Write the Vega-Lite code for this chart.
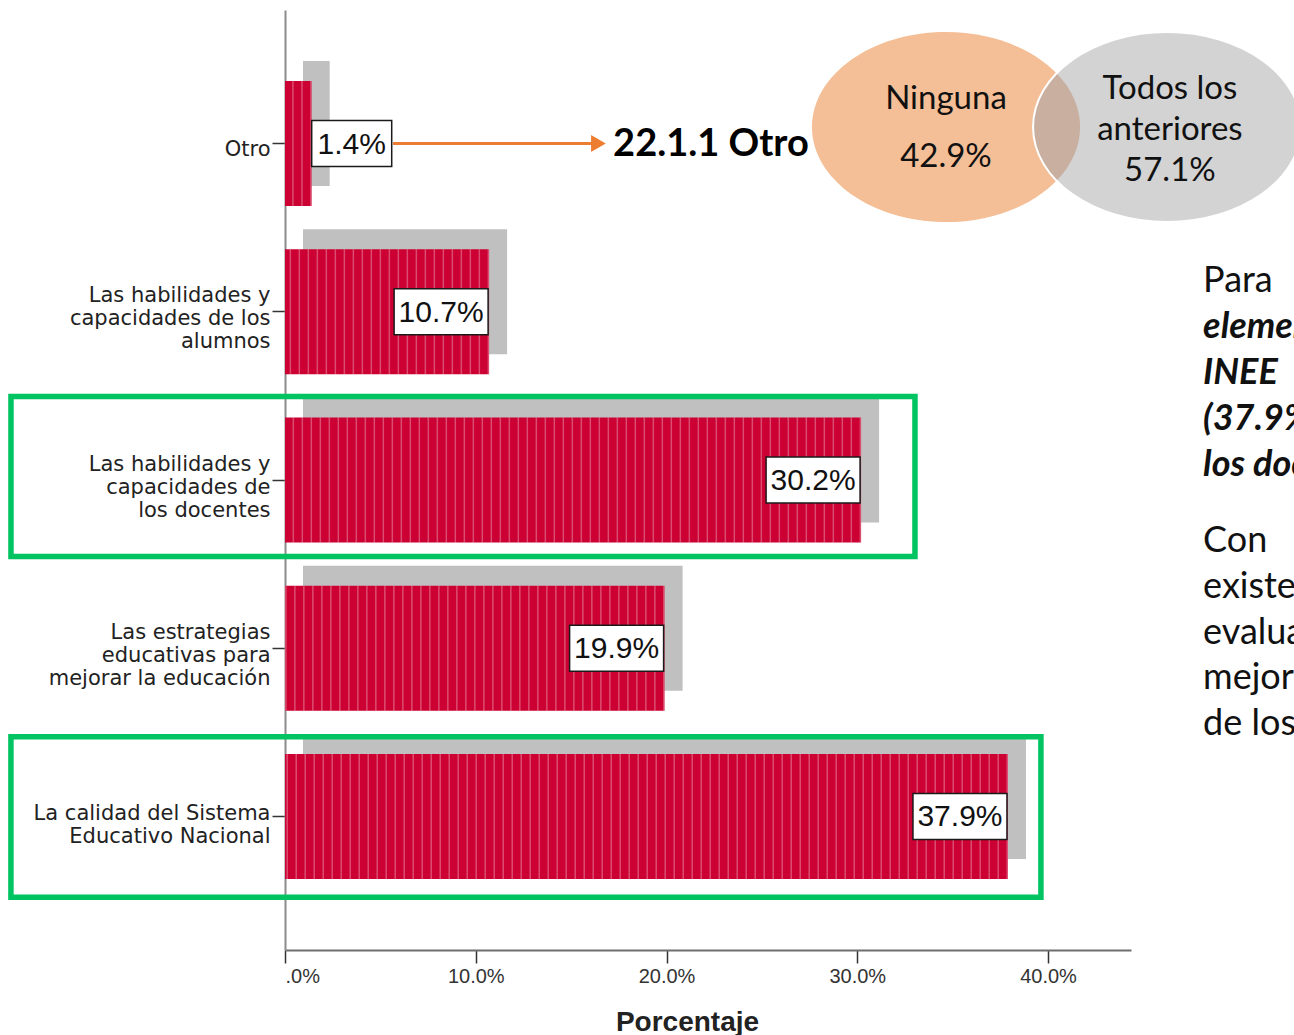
{
  "$schema": "https://vega.github.io/schema/vega-lite/v6.json",
  "autosize": {"type": "none"},
  "width": 846,
  "height": 940,
  "padding": {"left": 285, "top": 10, "right": 163, "bottom": 85},
  "background": "white",
  "config": {"view": {"stroke": null}, "axis": {"grid": false}},
  "data": {"values": [
    {"cat": "Otro", "pct": 0.014},
    {"cat": "Las habilidades y\ncapacidades de los\nalumnos", "pct": 0.107},
    {"cat": "Las habilidades y\ncapacidades de\nlos docentes", "pct": 0.302},
    {"cat": "Las estrategias\neducativas para\nmejorar la educación", "pct": 0.199},
    {"cat": "La calidad del Sistema\nEducativo Nacional", "pct": 0.379}
  ]},
  "layer": [
    {
      "mark": {"type": "bar", "color": "#C0C0C0", "xOffset": 18, "x2Offset": 22, "yOffset": -20},
      "encoding": {
        "x": {"field": "pct", "type": "quantitative",
              "scale": {"domain": [0, 0.4435], "nice": false, "zero": false},
              "axis": {"values": [0, 0.1, 0.2, 0.3, 0.4],
                       "labelExpr": "datum.value == 0 ? '.0%' : format(datum.value, '.1%')",
                       "domainColor": "#6e6e6e", "domainWidth": 2, "tickColor": "#333333", "tickWidth": 1.5, "tickSize": 13,
                       "labelFont": "Liberation Sans", "labelFontSize": 20, "labelColor": "#333333", "labelPadding": 3,
                       "title": "Porcentaje", "titleFont": "Liberation Sans", "titleFontSize": 28, "titleFontWeight": "bold",
                       "titleColor": "#222222", "titleX": 402, "titleY": 80, "titleAlign": "center", "titleBaseline": "alphabetic"}},
        "y": {"field": "cat", "type": "nominal",
              "scale": {"domain": ["Otro", "Las habilidades y\ncapacidades de los\nalumnos", "Las habilidades y\ncapacidades de\nlos docentes", "Las estrategias\neducativas para\nmejorar la educación", "La calidad del Sistema\nEducativo Nacional"], "paddingInner": 0.257, "paddingOuter": 0.422},
              "axis": {"title": null, "labelExpr": "split(datum.label, '\\n')", "labelLineHeight": 23,
                       "labelFont": "DejaVu Sans", "labelFontSize": 21, "labelColor": "#222222", "labelLimit": 400,
                       "labelPadding": 2,
                       "labelOffset": {"condition": [{"test": "datum.value == 'Otro'", "value": 6}, {"test": "indexof(datum.value, 'Sistema') >= 0", "value": -2}], "value": -15.5},
                       "domainColor": "#8c8c8c", "domainWidth": 2, "tickColor": "#333333", "tickWidth": 1.5, "tickSize": 13}}
      }
    },
    {
      "mark": {"type": "bar", "color": "#CC0033"},
      "encoding": {
        "x": {"field": "pct", "type": "quantitative"},
        "y": {"field": "cat", "type": "nominal"}
      }
    },
    {
      "mark": {"type": "rule", "color": "white", "strokeWidth": 125, "strokeDash": [1.5, 7.5], "opacity": 0.3},
      "encoding": {
        "x": {"field": "pct", "type": "quantitative"},
        "x2": {"value": 0},
        "y": {"field": "cat", "type": "nominal"}
      }
    },
    {
      "transform": [{"filter": "datum.cat != 'Otro'"}],
      "mark": {"type": "bar", "fill": "white", "stroke": "#1a1a1a", "strokeWidth": 1.5, "height": 46, "xOffset": -95, "x2Offset": -1},
      "encoding": {
        "x": {"field": "pct", "type": "quantitative"},
        "x2": {"field": "pct"},
        "y": {"field": "cat", "type": "nominal"}
      }
    },
    {
      "transform": [{"filter": "datum.cat == 'Otro'"}],
      "mark": {"type": "bar", "fill": "white", "stroke": "#1a1a1a", "strokeWidth": 1.5, "height": 46, "xOffset": 0, "x2Offset": 80},
      "encoding": {
        "x": {"field": "pct", "type": "quantitative"},
        "x2": {"field": "pct"},
        "y": {"field": "cat", "type": "nominal"}
      }
    },
    {
      "transform": [{"filter": "datum.cat != 'Otro'"}],
      "mark": {"type": "text", "font": "Liberation Sans", "fontSize": 30, "color": "#111111", "align": "center", "baseline": "middle", "xOffset": -48, "yOffset": 1},
      "encoding": {
        "x": {"field": "pct", "type": "quantitative"},
        "y": {"field": "cat", "type": "nominal"},
        "text": {"field": "pct", "type": "quantitative", "format": ".1%"}
      }
    },
    {
      "transform": [{"filter": "datum.cat == 'Otro'"}],
      "mark": {"type": "text", "font": "Liberation Sans", "fontSize": 30, "color": "#111111", "align": "center", "baseline": "middle", "xOffset": 40, "yOffset": 1},
      "encoding": {
        "x": {"field": "pct", "type": "quantitative"},
        "y": {"field": "cat", "type": "nominal"},
        "text": {"field": "pct", "type": "quantitative", "format": ".1%"}
      }
    },
    {
      "data": {"values": [{}]},
      "mark": {"type": "point", "shape": "M-1,-0.177L1,-0.177L1,0.177L-1,0.177Z", "size": 817216, "filled": false, "stroke": "#00C462", "strokeWidth": 5.5, "opacity": 1, "yOffset": -3.5},
      "encoding": {
        "x": {"datum": 0.0933, "type": "quantitative"},
        "y": {"datum": "Las habilidades y\ncapacidades de\nlos docentes", "type": "nominal"}
      }
    },
    {
      "data": {"values": [{}]},
      "mark": {"type": "point", "shape": "M-1,-0.1558L1,-0.1558L1,0.1558L-1,0.1558Z", "size": 1060900, "filled": false, "stroke": "#00C462", "strokeWidth": 5.5, "opacity": 1, "yOffset": 0.5},
      "encoding": {
        "x": {"datum": 0.1263, "type": "quantitative"},
        "y": {"datum": "La calidad del Sistema\nEducativo Nacional", "type": "nominal"}
      }
    },
    {
      "data": {"values": [{}]},
      "mark": {"type": "point", "shape": "M-1,0L1,0", "size": 39601, "filled": false, "stroke": "#ED7D31", "strokeWidth": 3, "opacity": 1},
      "encoding": {
        "x": {"datum": 0.1088, "type": "quantitative"},
        "y": {"datum": "Otro", "type": "nominal"}
      }
    },
    {
      "data": {"values": [{}]},
      "mark": {"type": "point", "shape": "triangle-right", "size": 289, "filled": true, "color": "#ED7D31", "opacity": 1},
      "encoding": {
        "x": {"datum": 0.1643, "type": "quantitative"},
        "y": {"datum": "Otro", "type": "nominal"}
      }
    },
    {
      "data": {"values": [{}]},
      "mark": {"type": "text", "text": "22.1.1 Otro", "font": "Lato", "fontSize": 38, "fontWeight": "bold", "color": "#000000", "align": "left", "baseline": "middle", "yOffset": 1.5},
      "encoding": {
        "x": {"datum": 0.172, "type": "quantitative"},
        "y": {"datum": "Otro", "type": "nominal"}
      }
    },
    {
      "data": {"values": [{}]},
      "mark": {"type": "point", "shape": "M-1,0A1,0.709,0,1,1,1,0A1,0.709,0,1,1,-1,0Z", "size": 71824, "filled": true, "color": "#F4BE96", "opacity": 1, "yOffset": -16.5},
      "encoding": {
        "x": {"datum": 0.3465, "type": "quantitative"},
        "y": {"datum": "Otro", "type": "nominal"}
      }
    },
    {
      "data": {"values": [{}]},
      "mark": {"type": "point", "shape": "M-1,0A1,0.709,0,1,1,1,0A1,0.709,0,1,1,-1,0Z", "size": 71824, "filled": true, "color": "#D3D3D3", "opacity": 1, "yOffset": -16.5},
      "encoding": {
        "x": {"datum": 0.4624, "type": "quantitative"},
        "y": {"datum": "Otro", "type": "nominal"}
      }
    },
    {
      "data": {"values": [{}]},
      "mark": {"type": "point", "shape": "M0,-0.4011A1,0.709,0,0,1,0,0.4011A1,0.709,0,0,1,0,-0.4011Z", "size": 71824, "filled": true, "color": "#C9AFA0", "opacity": 1, "yOffset": -16.5},
      "encoding": {
        "x": {"datum": 0.4045, "type": "quantitative"},
        "y": {"datum": "Otro", "type": "nominal"}
      }
    },
    {
      "data": {"values": [{}]},
      "mark": {"type": "point", "shape": "M-1,0A1,0.709,0,1,1,1,0A1,0.709,0,1,1,-1,0Z", "size": 71824, "filled": false, "stroke": "white", "strokeWidth": 2, "opacity": 1, "yOffset": -16.5},
      "encoding": {
        "x": {"datum": 0.4624, "type": "quantitative"},
        "y": {"datum": "Otro", "type": "nominal"}
      }
    },
    {
      "data": {"values": [{}]},
      "mark": {"type": "text", "text": "Ninguna", "font": "Lato", "fontSize": 33, "color": "#111111", "align": "center", "baseline": "middle", "yOffset": -44.5},
      "encoding": {
        "x": {"datum": 0.3465, "type": "quantitative"},
        "y": {"datum": "Otro", "type": "nominal"}
      }
    },
    {
      "data": {"values": [{}]},
      "mark": {"type": "text", "text": "42.9%", "font": "Lato", "fontSize": 33, "color": "#111111", "align": "center", "baseline": "middle", "yOffset": 13.5},
      "encoding": {
        "x": {"datum": 0.3465, "type": "quantitative"},
        "y": {"datum": "Otro", "type": "nominal"}
      }
    },
    {
      "data": {"values": [{}]},
      "mark": {"type": "text", "text": ["Todos los", "anteriores", "57.1%"], "lineHeight": 41, "font": "Lato", "fontSize": 33, "color": "#111111", "align": "center", "baseline": "middle", "yOffset": -55},
      "encoding": {
        "x": {"datum": 0.4639, "type": "quantitative"},
        "y": {"datum": "Otro", "type": "nominal"}
      }
    },
    {
      "data": {"values": [{}]},
      "mark": {"type": "text", "text": "Para", "font": "Lato", "fontSize": 36, "color": "#111111", "align": "left", "baseline": "middle", "yOffset": -30.5},
      "encoding": {
        "x": {"datum": 0.4813, "type": "quantitative"},
        "y": {"datum": "Las habilidades y\ncapacidades de los\nalumnos", "type": "nominal"}
      }
    },
    {
      "data": {"values": [{}]},
      "mark": {"type": "text", "text": ["elementos", "INEE", "(37.9%)", "los docentes"], "lineHeight": 45.75, "font": "Lato", "fontSize": 36, "fontWeight": "bold", "fontStyle": "italic", "color": "#111111", "align": "left", "baseline": "middle", "yOffset": 15.5},
      "encoding": {
        "x": {"datum": 0.4813, "type": "quantitative"},
        "y": {"datum": "Las habilidades y\ncapacidades de los\nalumnos", "type": "nominal"}
      }
    },
    {
      "data": {"values": [{}]},
      "mark": {"type": "text", "text": ["Con", "existencia", "evaluación", "mejorar", "de los"], "lineHeight": 45.75, "font": "Lato", "fontSize": 36, "color": "#111111", "align": "left", "baseline": "middle", "yOffset": -107},
      "encoding": {
        "x": {"datum": 0.4813, "type": "quantitative"},
        "y": {"datum": "Las estrategias\neducativas para\nmejorar la educación", "type": "nominal"}
      }
    }
  ]
}
